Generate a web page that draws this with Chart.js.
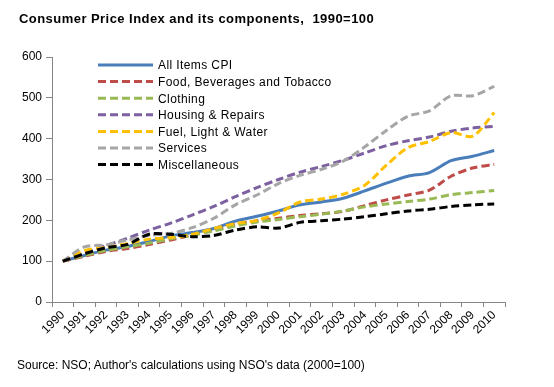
<!DOCTYPE html>
<html>
<head>
<meta charset="utf-8">
<script src="https://cdn.jsdelivr.net/npm/chart.js@4.4.1/dist/chart.umd.min.js"></script>
<style>
  body { margin: 0; background: #fff; }
  #wrap { position: relative; width: 554px; height: 387px; }
  #chart { position: absolute; left: 0; top: 0; }
  .title { position: absolute; left: 19px; top: 11px; font: bold 13px "Liberation Sans", Arial, sans-serif; letter-spacing: 0.45px; color: #000; white-space: nowrap; }
  .source { position: absolute; left: 17px; top: 358px; font: 12px "Liberation Sans", Arial, sans-serif; color: #000; white-space: nowrap; }
</style>
</head>
<body>
<div id="wrap">
  <canvas id="chart" width="554" height="387"></canvas>
  <div class="title">Consumer Price Index and its components,&nbsp; 1990=100</div>
  <div class="source">Source: NSO; Author's calculations using NSO's data (2000=100)</div>
</div>
<script>
// Data
const years = ["1990","1991","1992","1993","1994","1995","1996","1997","1998","1999","2000",
               "2001","2002","2003","2004","2005","2006","2007","2008","2009","2010"];
const allItems = [100,114,127,136,148,162,170,180,198,210,223,238,245,254,272,291,308,317,346,357,371];
const food     = [100,112,124,131,141,152,164,176,190,199,205,212,216,222,236,250,262,274,308,328,337];
const clothing = [100,114,126,135,144,155,164,174,186,196,202,209,215,223,233,240,246,252,263,268,273];
const housing  = [100,120,138,156,176,193,213,234,258,280,300,318,332,347,365,383,395,404,418,426,430];
const fuel     = [100,126,134,143,154,158,166,180,192,200,218,245,252,264,286,335,378,393,415,406,464];
const services = [100,135,140,152,163,168,182,205,238,262,290,310,325,345,380,420,455,468,505,505,528];
const misc     = [100,118,133,141,166,166,160,163,176,184,181,195,199,203,209,216,223,227,234,238,240];
const yTicks = [0, 100, 200, 300, 400, 500, 600];

const axisGrey = "#868686";
const font = { family: "'Liberation Sans', Arial, sans-serif", size: 12 };

function series(label, data, color, dashed, idx) {
    return {
        label: label,
        data: data,
        borderColor: color,
        backgroundColor: color,
        borderWidth: 3,
        borderDash: dashed ? [8, 4] : [],
        pointRadius: 0,
        tension: 0.3,
        fill: false,
        order: 10 - idx
    };
}

// Legend drawn inside the plot, like the original
const insideLegend = {
    id: "insideLegend",
    afterDraw(chart) {
        const ctx = chart.ctx;
        ctx.save();
        ctx.font = "12px 'Liberation Sans', Arial, sans-serif";
        ctx.letterSpacing = "0.4px";
        ctx.textBaseline = "middle";
        chart.data.datasets.forEach((ds, i) => {
            const y = 65 + i * 16.6;
            ctx.strokeStyle = ds.borderColor;
            ctx.lineWidth = ds.borderWidth;
            ctx.setLineDash(ds.borderDash);
            ctx.beginPath();
            ctx.moveTo(98, y);
            ctx.lineTo(153, y);
            ctx.stroke();
            ctx.setLineDash([]);
            ctx.fillStyle = "#000";
            ctx.fillText(ds.label, 158, y + 1);
        });
        ctx.restore();
    }
};

new Chart(document.getElementById("chart"), {
    type: "line",
    data: {
        labels: years,
        datasets: [
            series("All Items CPI", allItems, "#4A7EBB", false, 0),
            series("Food, Beverages and Tobacco", food, "#BE4B48", true, 1),
            series("Clothing", clothing, "#98B954", true, 2),
            series("Housing & Repairs", housing, "#7D60A0", true, 3),
            series("Fuel, Light & Water", fuel, "#FFC000", true, 4),
            series("Services", services, "#A6A6A6", true, 5),
            series("Miscellaneous", misc, "#000000", true, 6)
        ]
    },
    options: {
        responsive: false,
        animation: false,
        layout: { padding: { top: 57, right: 49, left: 0, bottom: 0 } },
        plugins: { legend: { display: false }, tooltip: { enabled: false } },
        scales: {
            x: {
                offset: true,
                grid: { offset: true, drawOnChartArea: false, color: axisGrey, tickLength: 5 },
                border: { color: axisGrey },
                ticks: { color: "#000", font: font, maxRotation: 45, minRotation: 45, autoSkip: false, padding: 1 },
                afterFit(scale) { scale.height = 85; }
            },
            y: {
                min: 0,
                max: 600,
                afterBuildTicks(scale) { scale.ticks = yTicks.map(v => ({ value: v })); },
                grid: { drawOnChartArea: false, color: axisGrey, tickLength: 6 },
                border: { color: axisGrey },
                ticks: { color: "#000", font: font, padding: 4 },
                afterFit(scale) { scale.width = 52; }
            }
        }
    },
    plugins: [insideLegend]
});
</script>
</body>
</html>
